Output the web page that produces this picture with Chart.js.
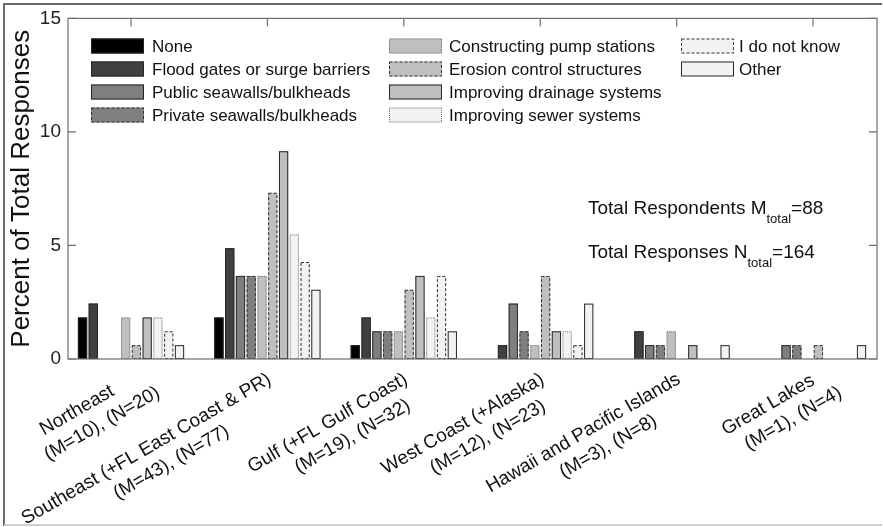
<!DOCTYPE html>
<html>
<head>
<meta charset="utf-8">
<script src="https://cdn.jsdelivr.net/npm/chart.js@4"></script>
<style>
  html, body { margin: 0; padding: 0; background: #fff; }
  #wrap { width: 883px; height: 527px; position: relative; }
</style>
</head>
<body>
<div id="wrap"><canvas id="chart"></canvas></div>
<script>
// regions (two-line tick labels)
const regions = [
  ['Northeast', '(M=10), (N=20)'],
  ['Southeast (+FL East Coast & PR)', '(M=43), (N=77)'],
  ['Gulf (+FL Gulf Coast)', '(M=19), (N=32)'],
  ['West Coast (+Alaska)', '(M=12), (N=23)'],
  ['Hawaii and Pacific Islands', '(M=3), (N=8)'],
  ['Great Lakes', '(M=1), (N=4)']
];

const seriesNames = [
  'None', 'Flood gates or surge barriers', 'Public seawalls/bulkheads', 'Private seawalls/bulkheads',
  'Constructing pump stations', 'Erosion control structures', 'Improving drainage systems',
  'Improving sewer systems', 'I do not know', 'Other'
];

// percent of total responses, per region
const noneVals     = [1.83, 1.83, 0.61, 0,    0,    0];
const floodVals    = [2.44, 4.88, 1.83, 0.61, 1.22, 0];
const publicVals   = [0,    3.66, 1.22, 2.44, 0.61, 0.61];
const privateVals  = [0,    3.66, 1.22, 1.22, 0.61, 0.61];
const pumpVals     = [1.83, 3.66, 1.22, 0.61, 1.22, 0];
const erosionVals  = [0.61, 7.32, 3.05, 3.66, 0,    0.61];
const drainageVals = [1.83, 9.15, 3.66, 1.22, 0.61, 0];
const sewerVals    = [1.83, 5.49, 1.83, 1.22, 0,    0];
const idkVals      = [1.22, 4.27, 3.66, 0.61, 0,    0];
const otherVals    = [0.61, 3.05, 1.22, 2.44, 0.61, 0.61];

const yTicks = [0, 5, 10, 15];
const totalRespondents = 88;
const totalResponses = 164;

const seriesValues = [noneVals, floodVals, publicVals, privateVals, pumpVals,
  erosionVals, drainageVals, sewerVals, idkVals, otherVals];

// looks
const fills = ['#000000', '#404040', '#7f7f7f', '#7f7f7f', '#bfbfbf',
  '#bfbfbf', '#bfbfbf', '#f2f2f2', '#f2f2f2', '#f2f2f2'];
const edges = ['solid', 'solid', 'solid', 'dash', 'dot', 'dash', 'solid', 'dot', 'dash', 'solid'];
const FONT = "'Liberation Sans', Arial, Helvetica, sans-serif";

const regionPos = regions.map((r, i) => i + 1);

function setEdge(ctx, style) {
  if (style === 'dash') { ctx.setLineDash([3, 2]); ctx.strokeStyle = '#303030'; }
  else if (style === 'dot') { ctx.setLineDash([1, 1]); ctx.strokeStyle = '#707070'; }
  else { ctx.setLineDash([]); ctx.strokeStyle = '#262626'; }
  ctx.lineWidth = 1;
}

const figurePlugin = {
  id: 'figure',
  beforeDraw(chart) {
    const ctx = chart.ctx;
    ctx.save();
    ctx.fillStyle = '#fff';
    ctx.fillRect(0, 0, chart.width, chart.height);
    ctx.restore();
  },
  afterDatasetsDraw(chart) {
    const ctx = chart.ctx;
    const area = chart.chartArea;
    const xs = chart.scales.x, ys = chart.scales.y;
    ctx.save();

    // bar edges
    chart.data.datasets.forEach((ds, i) => {
      const meta = chart.getDatasetMeta(i);
      meta.data.forEach((bar, j) => {
        if (!seriesValues[i][j]) return;
        const p = bar.getProps(['x', 'y', 'base', 'width'], true);
        setEdge(ctx, edges[i]);
        ctx.strokeRect(p.x - p.width / 2 + 0.5, p.y + 0.5, p.width - 1, p.base - p.y - 1);
      });
    });

    // axes box and inward ticks
    ctx.setLineDash([]);
    ctx.strokeStyle = '#6e6e6e';
    ctx.lineWidth = 1.2;
    ctx.strokeRect(area.left, area.top, area.right - area.left, area.bottom - area.top);
    yTicks.forEach(v => {
      const y = ys.getPixelForValue(v);
      ctx.beginPath();
      ctx.moveTo(area.left, y); ctx.lineTo(area.left + 8, y);
      ctx.moveTo(area.right, y); ctx.lineTo(area.right - 8, y);
      ctx.stroke();
    });
    regionPos.forEach(v => {
      const x = xs.getPixelForValue(v);
      ctx.beginPath();
      ctx.moveTo(x, area.top); ctx.lineTo(x, area.top + 8);
      ctx.stroke();
    });

    // rotated two-line region labels
    ctx.fillStyle = '#111';
    ctx.font = '19px ' + FONT;
    ctx.textAlign = 'center';
    ctx.textBaseline = 'alphabetic';
    const lineShift = [-3, 12];
    regions.forEach((lines, i) => {
      const x = xs.getPixelForValue(regionPos[i]);
      const w = Math.max(...lines.map(l => ctx.measureText(l).width));
      ctx.save();
      ctx.translate(x, area.bottom + 9);
      ctx.rotate(-Math.PI / 6);
      lines.forEach((l, k) => ctx.fillText(l, -w / 2 + lineShift[k], 15 + k * 24));
      ctx.restore();
    });

    // legend, three columns filled top to bottom
    const colSwatch = [91, 389, 681];
    const colText = [152, 449, 739];
    const rowY = [46, 69, 92, 115];
    ctx.font = '17px ' + FONT;
    ctx.textAlign = 'left';
    ctx.textBaseline = 'middle';
    seriesNames.forEach((name, i) => {
      const c = Math.floor(i / 4), r = i % 4;
      const sx = colSwatch[c], sy = rowY[r] - 7.5;
      ctx.fillStyle = fills[i];
      ctx.fillRect(sx, sy, 53, 15);
      setEdge(ctx, edges[i]);
      ctx.strokeRect(sx + 0.5, sy + 0.5, 52, 14);
      ctx.fillStyle = '#111';
      ctx.fillText(name, colText[c], rowY[r] + 1);
    });

    // totals annotation with subscripts
    ctx.textBaseline = 'alphabetic';
    const note = (x, y, main, sub, tail) => {
      ctx.font = '19px ' + FONT;
      ctx.fillText(main, x, y);
      x += ctx.measureText(main).width;
      ctx.font = '13px ' + FONT;
      ctx.fillText(sub, x, y + 9);
      x += ctx.measureText(sub).width;
      ctx.font = '19px ' + FONT;
      ctx.fillText(tail, x, y);
    };
    note(588, 214, 'Total Respondents M', 'total', '=' + totalRespondents);
    note(588, 258, 'Total Responses N', 'total', '=' + totalResponses);

    // figure frame
    ctx.setLineDash([]);
    ctx.lineWidth = 2;
    ctx.strokeStyle = '#6a6a6a';
    ctx.beginPath();
    ctx.moveTo(4, 526); ctx.lineTo(4, 4); ctx.lineTo(882, 4);
    ctx.stroke();
    ctx.strokeStyle = '#d0d0d0';
    ctx.beginPath();
    ctx.moveTo(4, 525); ctx.lineTo(882, 525);
    ctx.stroke();
    ctx.restore();
  }
};

new Chart(document.getElementById('chart').getContext('2d'), {
  type: 'bar',
  data: {
    datasets: seriesNames.map((name, i) => ({
      label: name,
      data: regionPos.map((x, j) => ({ x: x, y: seriesValues[i][j] })),
      backgroundColor: fills[i],
      borderWidth: 0,
      categoryPercentage: 0.79,
      barPercentage: 0.86
    }))
  },
  options: {
    responsive: true,
    maintainAspectRatio: false,
    animation: false,
    layout: { padding: { top: 18, right: 6, left: 0, bottom: 0 } },
    plugins: { legend: { display: false }, tooltip: { enabled: false } },
    scales: {
      x: {
        type: 'linear',
        bounds: 'data',
        offset: false,
        min: 0.538,
        max: 6.469,
        afterBuildTicks: s => { s.ticks = regionPos.map(v => ({ value: v })); },
        grid: { display: false },
        border: { display: false },
        ticks: { display: false },
        afterFit: s => { s.height = 168; }
      },
      y: {
        min: 0,
        max: 15,
        afterBuildTicks: s => { s.ticks = yTicks.map(v => ({ value: v })); },
        ticks: { font: { size: 19, family: FONT }, color: '#222', padding: 7 },
        grid: { display: false, drawTicks: false },
        border: { display: false },
        title: {
          display: true,
          text: 'Percent of Total Responses',
          font: { size: 26, family: FONT },
          color: '#111',
          padding: { top: 6, bottom: 0 }
        },
        afterFit: s => { s.width = 68; }
      }
    }
  },
  plugins: [figurePlugin]
});
</script>
</body>
</html>
